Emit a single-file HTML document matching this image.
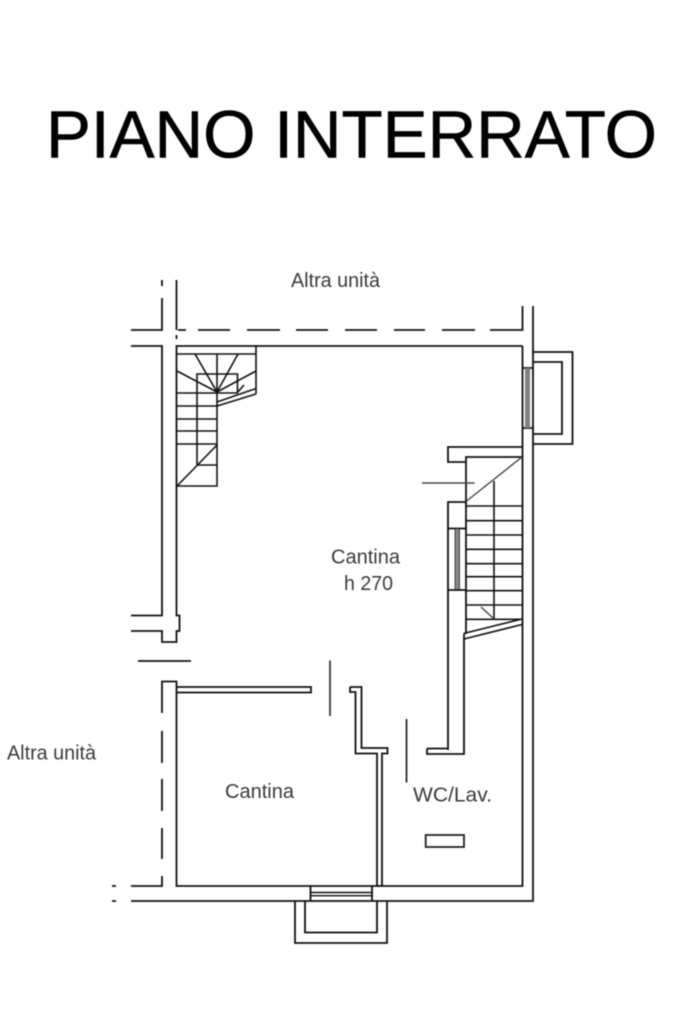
<!DOCTYPE html>
<html>
<head>
<meta charset="utf-8">
<title>Piano interrato</title>
<style>
html,body{margin:0;padding:0;background:#fff;}
body{width:683px;height:1023px;overflow:hidden;}
svg{display:block;filter:blur(0.4px);}
text{font-family:"Liberation Sans",Arial,sans-serif;}
.l{font-size:20px;fill:#3a3a3a;}
path{fill:none;stroke-linecap:butt;stroke-linejoin:miter;}
</style>
</head>
<body>
<svg width="683" height="1023" viewBox="0 0 683 1023" xmlns="http://www.w3.org/2000/svg">
<rect width="683" height="1023" fill="#fff"/>
<text x="46" y="157.5" font-size="67" fill="#000" stroke="#000" stroke-width="0.6" textLength="611" lengthAdjust="spacingAndGlyphs">PIANO INTERRATO</text>

<text class="l" x="291" y="287" textLength="89" lengthAdjust="spacingAndGlyphs">Altra unità</text>
<text class="l" x="7" y="759.5" textLength="89" lengthAdjust="spacingAndGlyphs">Altra unità</text>
<text class="l" x="331" y="563.5" textLength="69" lengthAdjust="spacingAndGlyphs">Cantina</text>
<text class="l" x="344" y="590" textLength="49" lengthAdjust="spacingAndGlyphs">h 270</text>
<text class="l" x="225" y="798" textLength="69" lengthAdjust="spacingAndGlyphs">Cantina</text>
<text class="l" x="413" y="801.5" textLength="79" lengthAdjust="spacingAndGlyphs">WC/Lav.</text>

<!-- main walls -->
<path stroke="#111" stroke-width="1.8" d="
M176.5 280V330 M176.5 335V339
M162 280V286 M162 298V330H131
M131 346H162V615.5H131 M131 631H162V642H176.5V631H179.5V615.5H176.5V346H522.5
M138 661H191
M162 713V681.5H176.5V886H522.5V346
M162 731V763 M162 779V811 M162 828V859 M162 876V886H131
M131 901H533V306
M522.5 306V330H490
M475 330H442 M425 330H394 M377 330H345 M328 330H296 M280 330H247 M230 330H198 M178 330H186
M112 886H116 M112 901H116
"/>

<!-- partition and stubs -->
<path stroke="#111" stroke-width="1.8" d="
M176.5 687H311V692.5H176.5
M350 687H361.5V748H387.5V753.5H382V886 M377 886V753.5H355.5V692H350V687
"/>
<path stroke="#444" stroke-width="1.9" d="M330 660.5V716"/>
<path stroke="#111" stroke-width="1.6" d="M406.5 719V782.5"/>

<!-- right wall niche and stair -->
<path stroke="#111" stroke-width="1.8" d="
M522 447H448V462H466V457H522
M466 457V502H448V750 M466 502V634
M427 748.5H448 M427 748.5V754H464V639
M448 528.5H466 M448 590H466
M464 634V639
"/>
<rect x="455.5" y="529" width="3.5" height="60" fill="#888"/>
<path stroke="#444" stroke-width="1" d="M455 529V589 M459.5 529V589"/>
<path stroke="#111" stroke-width="1.6" d="
M466 506H522 M466 520.7H522 M466 535H522 M466 549.3H522 M466 563.7H522 M466 576.7H522 M466 590.7H522 M466 605H522 M466 619.3H522
M494 481V619.3
M463.5 633.5L522 619 M464 639L522 624.5
"/>
<path stroke="#444" stroke-width="1.4" d="M466 501.5L522 457 M481 607L493 618 M422 483H474.5"/>

<!-- top-left stair -->
<path stroke="#111" stroke-width="1.6" d="
M256 346V394 M177 354H256
M197 465V374H237.5V393
M217 354V486H177
M195 354L217 392 M238 354L217 392 M177 371L217 392 M256 371L217 392
M177 393H238
M217 402L256 388.5 M217 406L256 394 M256 394V388
M237 393L244 385
M177 406H217 M177 419H217 M177 431H217 M177 444H217 M197 465H217
M177 486L217 445
"/>

<!-- right window and balcony -->
<path stroke="#111" stroke-width="1.8" d="
M533 352H572.5V444H533 M533 362H562V434H533
M522 368H533 M522 428H533
"/>
<rect x="525" y="368" width="5" height="60" fill="#808080"/>

<!-- bottom window and balcony -->
<path stroke="#111" stroke-width="1.8" d="
M310.5 886V901 M372 886V901
M295 901V943H387V901 M305 901V932.5H377V901
"/>
<path stroke="#111" stroke-width="1.4" d="M310.5 892.5H372 M310.5 895.7H372"/>

<!-- small rect -->
<rect x="425.7" y="835" width="38.3" height="12" fill="#fff" stroke="#222" stroke-width="1.8"/>
</svg>
</body>
</html>
